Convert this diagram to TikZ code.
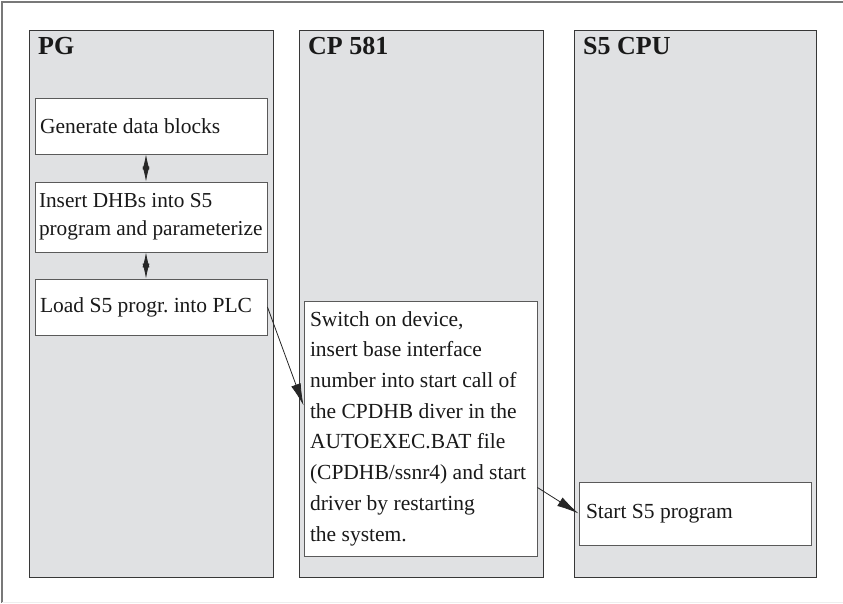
\documentclass[tikz,border=0pt]{standalone}
\usepackage{fontspec}
\setmainfont{Liberation Serif}
\usepackage{tikz}
\usetikzlibrary{arrows.meta,positioning}
\definecolor{PanelFill}{RGB}{224,225,227}
\definecolor{PanelLine}{RGB}{55,55,55}
\definecolor{BoxLine}{RGB}{90,90,90}
\definecolor{FrameGray}{RGB}{120,120,120}
\definecolor{FrameLight}{RGB}{238,238,238}
\frenchspacing
\hyphenpenalty=10000

\begin{document}
\begin{tikzpicture}[x=1pt,y=-1pt,
    panel/.style={draw=PanelLine, fill=PanelFill, line width=1pt, minimum height=547pt, inner sep=0pt},
    title/.style={anchor=base west, inner sep=0pt, font=\fontsize{26}{30}\selectfont\bfseries, text=black!90},
    stepbox/.style={draw=BoxLine, fill=white, line width=0.9pt, inner xsep=5pt, inner ysep=0pt,
      align=flush left, font=\fontsize{21.5}{28}\selectfont, text=black!90},
    link/.style={-{Latex[length=22pt,width=10pt]}, line width=0.8pt, black!85},
    dlink/.style={{Latex[length=15pt,width=7pt]}-{Latex[length=15pt,width=7pt]}, line width=0.8pt, black!85}
  ]
    \useasboundingbox (0,0) rectangle (843,604);
    % outer frame
    \draw[FrameGray, line width=2.2pt] (843,2) -- (2,2) -- (2,603);
    \draw[FrameLight, line width=1pt] (2,602.5) -- (843,602.5);
    % panels
    \foreach \x/\w/\n/\t in {29/244/pg/PG, 299/244/cp/CP 581, 574/242/cpu/S5 CPU} {
      \node[panel, minimum width=\w pt, anchor=north west] (\n) at (\x,30) {};
      \node[title] (\n title) at ([xshift=9pt,yshift=-25pt]\n.north west) {\t};
    }
    % steps
    \node[stepbox, minimum width=232pt, minimum height=56pt, text width=222pt] (gen) at (151,126) {Generate data blocks};
    \node[stepbox, minimum width=232pt, minimum height=70pt, text width=224pt, inner xsep=4pt,
      font=\fontsize{21.3}{28}\selectfont] (ins) at (151,217) {Insert DHBs into S5\\program and parameterize};
    \node[stepbox, minimum width=232pt, minimum height=56pt, text width=222pt] (load) at (151,307) {Load S5 progr. into PLC};
    \node[stepbox, minimum width=233pt, minimum height=255pt, text width=221pt, inner xsep=6pt,
      font=\fontsize{21.5}{30.7}\selectfont] (sw) at (420.5,428.5)
      {Switch on device,\\insert base interface\\number into start call of\\the CPDHB diver in the\\AUTOEXEC.BAT file\\(CPDHB/ssnr4) and start\\driver by restarting\\the system.};
    \node[stepbox, minimum width=232pt, minimum height=63pt, text width=218pt, inner xsep=7pt] (start) at (695,513.5) {Start S5 program};
    % connectors
    \draw[dlink] ([xshift=-5pt]gen.south) -- ([xshift=-5pt]ins.north);
    \draw[dlink] ([xshift=-5pt]ins.south) -- ([xshift=-5pt]load.north);
    \draw[link] (load.east) -- ([yshift=23pt]sw.west);
    \draw[link] ([yshift=-59pt]sw.east) -- (start.west);
  \end{tikzpicture}
\end{document}
